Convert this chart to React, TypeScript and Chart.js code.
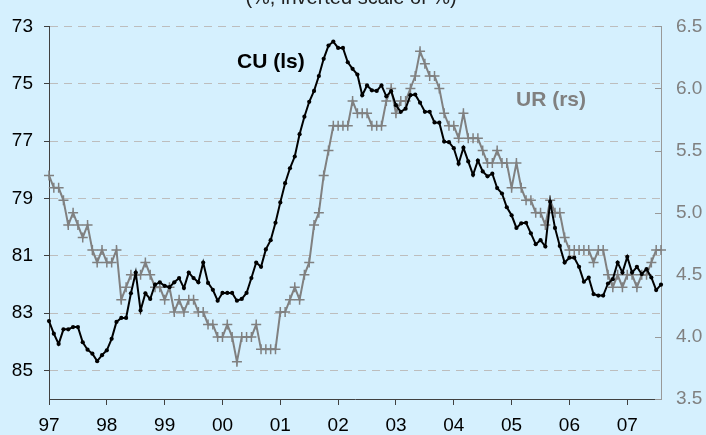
import React, { useEffect, useRef } from "react";
import Chart from "chart.js/auto";

const yearLabels = ["97", "98", "99", "00", "01", "02", "03", "04", "05", "06", "07"];

// Capacity utilisation, monthly Jan-1997 .. Aug-2007 (left scale, inverted)
const cuValues = [
  83.28, 83.72, 84.08, 83.57, 83.57, 83.49, 83.49, 84.02, 84.28, 84.42, 84.68, 84.47,
  84.3, 83.9, 83.31, 83.17, 83.17, 82.31, 81.59, 82.91, 82.31, 82.51, 82.01, 81.93,
  82.05, 82.1, 81.93, 81.78, 82.13, 81.59, 81.78, 81.93, 81.24, 81.95, 82.19, 82.57,
  82.3, 82.3, 82.3, 82.57, 82.51, 82.3, 81.78, 81.24, 81.39, 80.78, 80.46, 79.85,
  79.14, 78.47, 77.95, 77.54, 76.76, 76.15, 75.63, 75.25, 74.73, 74.13, 73.67, 73.53,
  73.75, 73.75, 74.25, 74.48, 74.68, 75.4, 75.06, 75.23, 75.25, 75.06, 75.44, 75.26,
  75.75, 75.98, 75.87, 75.4, 75.38, 75.66, 75.98, 75.98, 76.35, 76.36, 77.02, 77.04,
  77.25, 77.79, 77.23, 77.71, 78.18, 77.68, 78.06, 78.23, 78.14, 78.64, 78.83, 79.31,
  79.59, 80.03, 79.87, 79.85, 80.22, 80.6, 80.46, 80.68, 79.12, 80.03, 80.66, 81.24,
  81.07, 81.07, 81.39, 81.91, 81.76, 82.34, 82.39, 82.39, 81.97, 81.82, 81.24, 81.59,
  81.04, 81.59, 81.39, 81.64, 81.47, 81.76, 82.2, 82.01,
];

// Unemployment rate, monthly Jan-1997 .. Aug-2007 (right scale)
const urValues = [
  5.3, 5.2, 5.2, 5.1, 4.9, 5.0, 4.9, 4.8, 4.9, 4.7, 4.6, 4.7,
  4.6, 4.6, 4.7, 4.3, 4.4, 4.5, 4.5, 4.5, 4.6, 4.5, 4.4, 4.4,
  4.3, 4.4, 4.2, 4.3, 4.2, 4.3, 4.3, 4.2, 4.2, 4.1, 4.1, 4.0,
  4.0, 4.1, 4.0, 3.8, 4.0, 4.0, 4.0, 4.1, 3.9, 3.9, 3.9, 3.9,
  4.2, 4.2, 4.3, 4.4, 4.3, 4.5, 4.6, 4.9, 5.0, 5.3, 5.5, 5.7,
  5.7, 5.7, 5.7, 5.9, 5.8, 5.8, 5.8, 5.7, 5.7, 5.7, 5.9, 6.0,
  5.8, 5.9, 5.9, 6.0, 6.1, 6.3, 6.2, 6.1, 6.1, 6.0, 5.8, 5.7,
  5.7, 5.6, 5.8, 5.6, 5.6, 5.6, 5.5, 5.4, 5.4, 5.5, 5.4, 5.4,
  5.2, 5.4, 5.2, 5.1, 5.1, 5.0, 5.0, 4.9, 5.1, 5.0, 5.0, 4.8,
  4.7, 4.7, 4.7, 4.7, 4.7, 4.6, 4.7, 4.7, 4.5, 4.4, 4.5, 4.4,
  4.5, 4.5, 4.4, 4.5, 4.5, 4.6, 4.7, 4.7,
];

const leftTicks = [73, 75, 77, 79, 81, 83, 85];
const rightTicks = [3.5, 4.0, 4.5, 5.0, 5.5, 6.0, 6.5];

const titleText = "(%, inverted scale of %)";
const cuLabel = "CU (ls)";
const urLabel = "UR (rs)";

const FONT = "Arial, 'Liberation Sans', sans-serif";

export default function App() {
  const ref = useRef<HTMLCanvasElement | null>(null);

  useEffect(() => {
    const canvas = ref.current;
    if (!canvas) return;

    const bgPlugin = {
      id: "bg",
      beforeDraw(chart: any) {
        const ctx = chart.ctx;
        ctx.save();
        ctx.fillStyle = "#D5F0FE";
        ctx.fillRect(0, 0, chart.width, chart.height);
        ctx.restore();
      },
    };

    const textPlugin = {
      id: "texts",
      afterDraw(chart: any) {
        const ctx = chart.ctx;
        const area = chart.chartArea;
        const y2 = chart.scales.y2;
        ctx.save();
        // inner ticks on right axis
        ctx.strokeStyle = "#999999";
        ctx.lineWidth = 1;
        rightTicks.forEach((v) => {
          const py = Math.round(y2.getPixelForValue(v)) + 0.5;
          ctx.beginPath();
          ctx.moveTo(area.right - 6, py);
          ctx.lineTo(area.right, py);
          ctx.stroke();
        });
        // title (cut at top)
        ctx.fillStyle = "#222222";
        ctx.font = `20px ${FONT}`;
        ctx.textAlign = "center";
        ctx.textBaseline = "alphabetic";
        ctx.fillText(titleText, 351, 4);
        // series labels
        ctx.textAlign = "left";
        ctx.font = `bold 21px ${FONT}`;
        ctx.fillStyle = "#000000";
        ctx.fillText(cuLabel, 237, 68);
        ctx.fillStyle = "#808080";
        ctx.fillText(urLabel, 516, 106);
        ctx.restore();
      },
    };

    const chart = new Chart(canvas, {
      type: "line",
      data: {
        datasets: [
          {
            label: "CU",
            data: cuValues.map((v, i) => ({ x: i, y: v })),
            yAxisID: "y",
            borderColor: "#000000",
            backgroundColor: "#000000",
            borderWidth: 2,
            pointRadius: 2.1,
            pointBorderWidth: 0,
            pointBackgroundColor: "#000000",
            tension: 0,
            clip: false,
          },
          {
            label: "UR",
            data: urValues.map((v, i) => ({ x: i, y: v })),
            yAxisID: "y2",
            borderColor: "#808080",
            backgroundColor: "#808080",
            borderWidth: 2,
            pointStyle: "cross",
            pointRadius: 5,
            pointBorderWidth: 1.5,
            pointBorderColor: "#808080",
            tension: 0,
            clip: false,
          },
        ],
      },
      options: {
        responsive: false,
        animation: false,
        events: [],
        layout: { padding: { top: 24, left: 0, right: 0, bottom: 0 } },
        plugins: { legend: { display: false }, tooltip: { enabled: false }, title: { display: false } },
        scales: {
          x: {
            type: "linear",
            min: 0,
            max: cuValues.length - 1,
            afterBuildTicks: (s: any) => {
              s.ticks = yearLabels.map((_, i) => ({ value: i * 12 }));
            },
            afterFit: (s: any) => {
              s.height = 36;
            },
            ticks: {
              autoSkip: false,
              maxRotation: 0,
              color: "#000000",
              font: { size: 19, family: FONT },
              padding: 9,
              callback: (v: any) => yearLabels[Math.round(Number(v) / 12)],
            },
            grid: { drawOnChartArea: false, tickLength: 6, tickColor: "#404040", color: "#404040" },
            border: { color: "#404040", width: 1 },
          },
          y: {
            position: "left",
            reverse: true,
            min: 73,
            max: 86,
            afterBuildTicks: (s: any) => {
              s.ticks = leftTicks.map((v) => ({ value: v }));
            },
            afterFit: (s: any) => {
              s.width = 49;
            },
            ticks: {
              color: "#000000",
              font: { size: 19, family: FONT },
              padding: 11,
              callback: (v: any) => String(v),
            },
            grid: { color: "#BDBDBD", tickColor: "#404040", tickLength: 5, lineWidth: 1 },
            border: { color: "#404040", width: 1, dash: [8, 6] },
          },
          y2: {
            position: "right",
            min: 3.5,
            max: 6.5,
            afterBuildTicks: (s: any) => {
              s.ticks = rightTicks.map((v) => ({ value: v }));
            },
            afterFit: (s: any) => {
              s.width = 45;
            },
            ticks: {
              color: "#808080",
              font: { size: 19, family: FONT },
              padding: 15,
              callback: (v: any) => Number(v).toFixed(1),
            },
            grid: { drawOnChartArea: false, drawTicks: false },
            border: { color: "#999999", width: 1 },
          },
        },
      },
      plugins: [bgPlugin, textPlugin],
    } as any);

    return () => chart.destroy();
  }, []);

  return (
    <div style={{ position: "absolute", left: 0, top: 0, width: 706, height: 435 }}>
      <canvas ref={ref} width={706} height={435} style={{ display: "block", width: 706, height: 435 }} />
    </div>
  );
}
